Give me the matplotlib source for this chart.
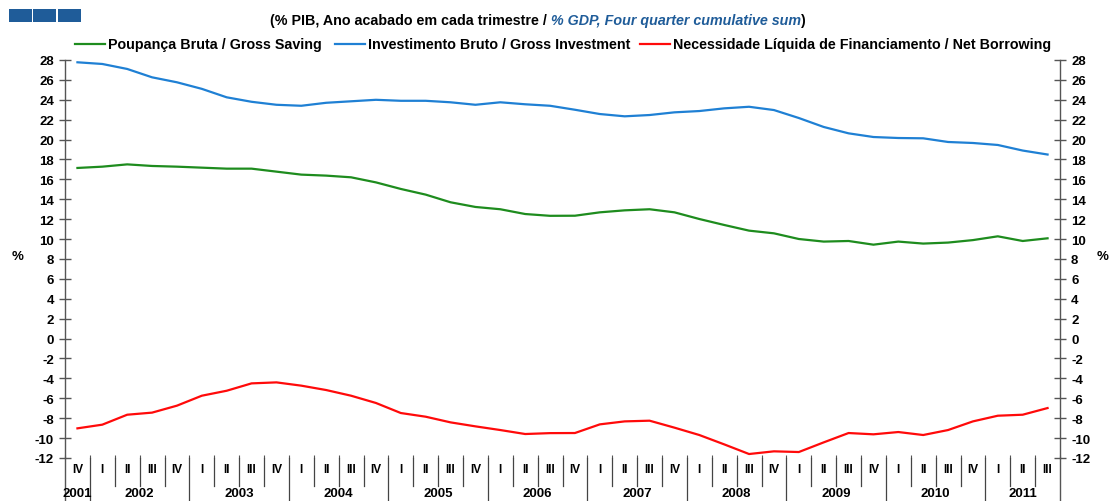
import matplotlib
matplotlib.use('Agg')
import matplotlib.pyplot as plt
from matplotlib.lines import Line2D
from matplotlib.patches import Rectangle
import numpy as np

plt.rcParams['font.family'] = ['Liberation Sans', 'DejaVu Sans']

quarters = ['IV',
            'I', 'II', 'III', 'IV', 'I', 'II', 'III', 'IV', 'I', 'II', 'III', 'IV',
            'I', 'II', 'III', 'IV', 'I', 'II', 'III', 'IV', 'I', 'II', 'III', 'IV',
            'I', 'II', 'III', 'IV', 'I', 'II', 'III', 'IV', 'I', 'II', 'III', 'IV',
            'I', 'II', 'III']
years = ['2001', '2002', '2003', '2004', '2005', '2006', '2007', '2008', '2009', '2010', '2011']

saving = [17.15, 17.28, 17.51, 17.35, 17.28, 17.18, 17.08, 17.08, 16.78, 16.48,
          16.38, 16.21, 15.70, 15.04, 14.47, 13.70, 13.23, 13.00, 12.52, 12.34,
          12.35, 12.69, 12.89, 13.00, 12.69, 12.02, 11.42, 10.85, 10.58, 10.01,
          9.75, 9.81, 9.44, 9.75, 9.55, 9.65, 9.90, 10.28, 9.81, 10.08]
investment = [27.77, 27.60, 27.10, 26.26, 25.76, 25.10, 24.25, 23.80, 23.50, 23.40,
              23.70, 23.85, 24.00, 23.90, 23.90, 23.75, 23.50, 23.75, 23.55, 23.40,
              23.00, 22.57, 22.34, 22.47, 22.74, 22.87, 23.14, 23.30, 22.97, 22.17,
              21.27, 20.63, 20.26, 20.16, 20.13, 19.76, 19.66, 19.46, 18.90, 18.50]
borrowing = [-9.02, -8.65, -7.65, -7.44, -6.74, -5.74, -5.24, -4.50, -4.40, -4.73,
             -5.17, -5.74, -6.47, -7.48, -7.85, -8.42, -8.82, -9.19, -9.59, -9.50,
             -9.49, -8.62, -8.32, -8.25, -8.95, -9.69, -10.63, -11.60, -11.33, -11.40,
             -10.43, -9.49, -9.62, -9.39, -9.69, -9.19, -8.32, -7.75, -7.65, -6.98]

c_green = '#1E8C1E'
c_blue = '#1F80D4'
c_red = '#FF0A0A'
c_title = '#1F5C99'

W, H = 1112, 502
fig = plt.figure(figsize=(W / 100, H / 100), dpi=100)
fig.patch.set_facecolor('white')


def fx(px):
    return px / W


def fy(py):
    return 1 - py / H


ax_l, ax_r, ax_t, ax_b = 65, 1060, 61, 459
ax = fig.add_axes([fx(ax_l), fy(ax_b), (ax_r - ax_l) / W, (ax_b - ax_t) / H])
x = np.arange(len(quarters))
ax.plot(x, saving, color=c_green, lw=1.6)
ax.plot(x, investment, color=c_blue, lw=1.6)
ax.plot(x, borrowing, color=c_red, lw=1.6)
ax.set_xlim(-0.5, len(quarters) - 0.5)
ax.set_ylim(-12, 28)

for s in ['top', 'bottom']:
    ax.spines[s].set_visible(False)
for s in ['left', 'right']:
    ax.spines[s].set_color('#555555')
    ax.spines[s].set_linewidth(1.0)

yt = np.arange(-12, 29, 2)
ax.set_yticks(yt)
ax.set_yticklabels([str(v) for v in yt])
ax.tick_params(axis='y', direction='inout', length=8, width=1, color='#555555',
               labelsize=9.5, pad=4, left=True, right=True, labelleft=True, labelright=True)
for lab in ax.get_yticklabels():
    lab.set_fontweight('bold')

ax.set_xticks(np.arange(-0.5, len(quarters), 1))
ax.set_xticklabels([])
ax.tick_params(axis='x', direction='in', length=2, width=0.8, color='#555555')

# category labels and separators under the plot
tr = ax.get_xaxis_transform()
y_bottom = -(H - ax_b) / (ax_b - ax_t)
y_qsep = -(487 - ax_b) / (ax_b - ax_t)
y_qlab = -(470 - ax_b) / (ax_b - ax_t)
y_ylab = -(494 - ax_b) / (ax_b - ax_t)

for i, q in enumerate(quarters):
    ax.text(i, y_qlab, q, transform=tr, ha='center', va='center', fontsize=8.5,
            fontweight='bold', clip_on=False)
    if i > 0:
        bottom = y_bottom if q == 'I' else y_qsep
        ax.plot([i - 0.5, i - 0.5], [0, bottom], transform=tr, color='#444444',
                lw=0.9, clip_on=False)
for xe in [-0.5, len(quarters) - 0.5]:
    ax.plot([xe, xe], [0, y_bottom], transform=tr, color='#555555', lw=1.0, clip_on=False)

year_idx = {}
yi = 0
for i, q in enumerate(quarters):
    if q == 'I' and i > 0:
        yi += 1
    year_idx.setdefault(years[yi], []).append(i)
for yr, idx in year_idx.items():
    ax.text(np.mean(idx), y_ylab, yr, transform=tr, ha='center', va='center',
            fontsize=9.5, fontweight='bold', clip_on=False)

# % labels
fig.text(fx(18), fy(257), '%', ha='center', va='center', fontsize=9.5, fontweight='bold')
fig.text(fx(1103), fy(257), '%', ha='center', va='center', fontsize=9.5, fontweight='bold')

# blue squares top-left
for x0 in [9, 33, 58]:
    fig.add_artist(Rectangle((fx(x0), fy(23)), 23 / W, 13 / H, transform=fig.transFigure,
                             facecolor=c_title, edgecolor='none'))

# title with two colours
t1 = fig.text(fx(270), fy(21), '(% PIB, Ano acabado em cada trimestre / ', ha='left',
              va='center', fontsize=10.3, fontweight='bold')
t2 = ax.annotate('% GDP, Four quarter cumulative sum', xy=(1, 0), xycoords=t1,
                 va='bottom', ha='left', fontsize=10.3, fontweight='bold', style='italic',
                 color=c_title, annotation_clip=False)
ax.annotate(')', xy=(1, 0), xycoords=t2, va='bottom', ha='left', fontsize=10.3,
            fontweight='bold', annotation_clip=False)

# legend
legend_items = [(75, 'Poupança Bruta / Gross Saving', c_green),
                (335, 'Investimento Bruto / Gross Investment', c_blue),
                (640, 'Necessidade Líquida de Financiamento / Net Borrowing', c_red)]
for x0, label, col in legend_items:
    fig.add_artist(Line2D([fx(x0), fx(x0 + 30)], [fy(45), fy(45)], color=col, lw=1.6,
                          transform=fig.transFigure))
    fig.text(fx(x0 + 33), fy(45), label, ha='left', va='center', fontsize=10.3,
             fontweight='bold')

fig.savefig('out.png', dpi=100)
